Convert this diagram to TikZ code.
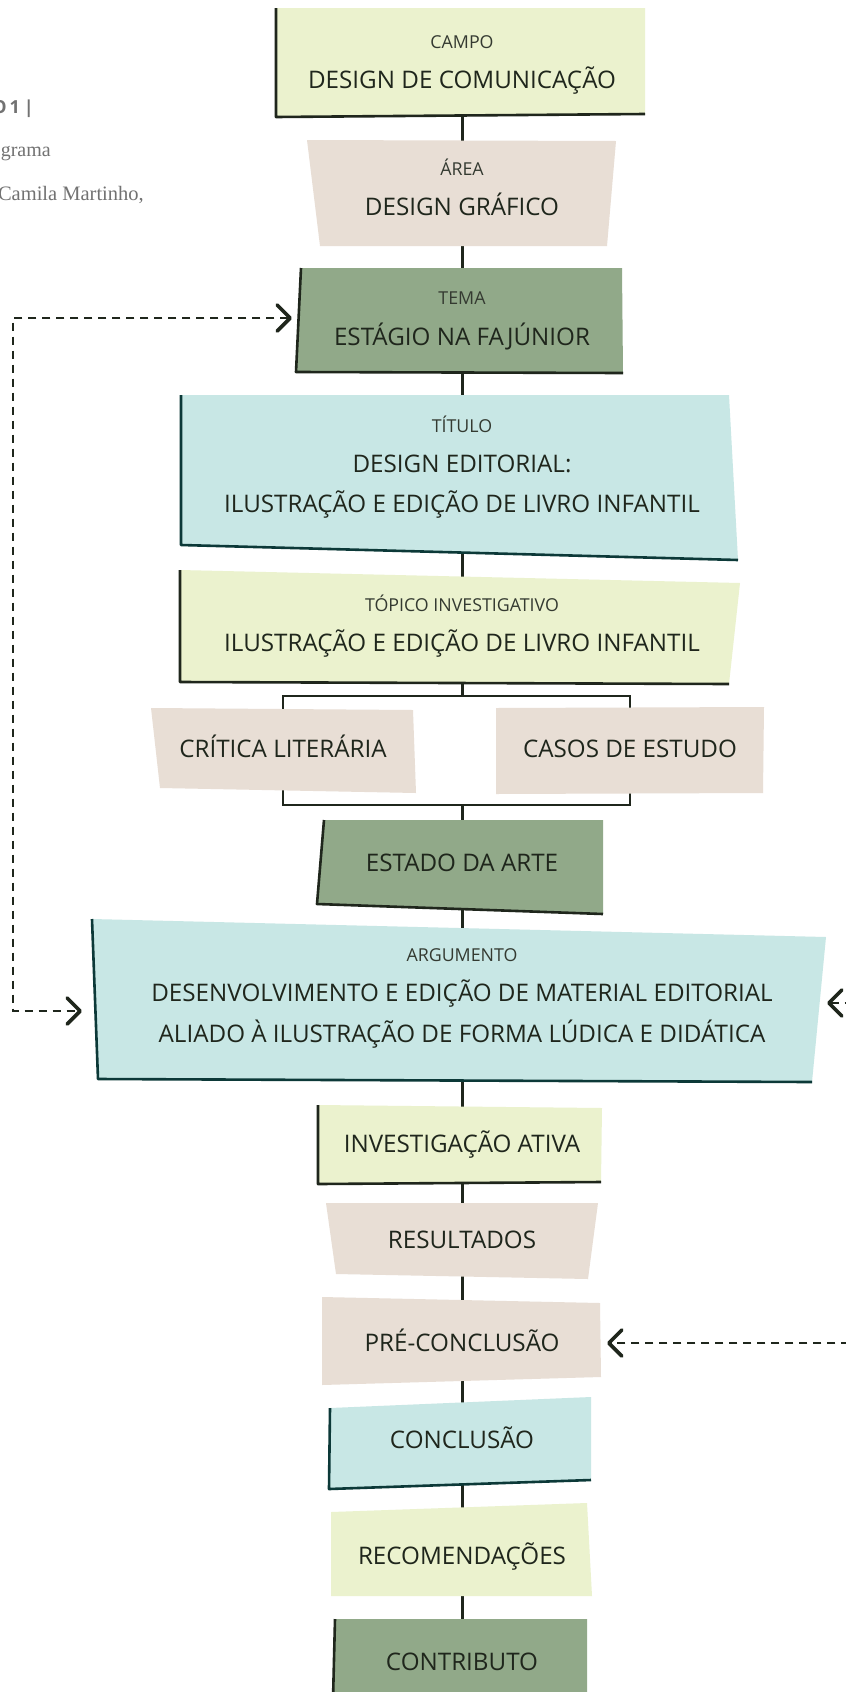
\documentclass[tikz,border=0pt]{standalone}
\usepackage{fontspec}
\setmainfont{Open Sans}
\newfontfamily\grayserif{Liberation Serif}
\usetikzlibrary{arrows.meta}
\definecolor{cYel}{HTML}{EBF2CE}
\definecolor{cBei}{HTML}{E8DED5}
\definecolor{cSag}{HTML}{91A989}
\definecolor{cTea}{HTML}{C8E7E5}
\definecolor{ink}{HTML}{1F261C}
\definecolor{tealink}{HTML}{0C3938}
\definecolor{labink}{HTML}{343A31}
\definecolor{grayt}{HTML}{727272}
\begin{document}
\begin{tikzpicture}[x=1pt,y=-1pt,
  conn/.style={draw=ink, line width=3pt},
  brk/.style={draw=ink, line width=2.4pt},
  edgeline/.style={draw=ink, line width=2.6pt, line join=round},
  tedgeline/.style={edgeline, draw=tealink},
  lbl/.style={anchor=base, font=\fontsize{17.8}{20}\selectfont, text=labink, inner sep=0pt},
  big/.style={anchor=base, font=\fontsize{24.2}{28}\selectfont, text=ink, inner sep=0pt},
  side/.style={anchor=base east, text=grayt, inner sep=0pt},
  fb/.style={draw=ink, line width=2.6pt, dash pattern=on 8pt off 6pt,
    arrows={Straight Barb[round,length=13pt,width=26pt,line width=3.6pt]-Straight Barb[round,length=13pt,width=26pt,line width=3.6pt]}}
]
\useasboundingbox (0,0) rectangle (846,1692);
\clip (0,0) rectangle (846,1692);
\fill[white] (0,0) rectangle (846,1692);

% centre coordinates
\coordinate (k1) at (462,60);
\coordinate (k2) at (462,190);
\coordinate (k3) at (462,320);
\coordinate (k4) at (462,475);
\coordinate (k5) at (462,630);
\coordinate (k6a) at (283,750);
\coordinate (k6b) at (630,750);
\coordinate (bt) at (462,696);
\coordinate (bb) at (462,805);
\coordinate (k7) at (462,863);
\coordinate (k8) at (462,1005);
\coordinate (k9) at (462,1146);
\coordinate (k10) at (462,1244);
\coordinate (k11) at (462,1343);
\coordinate (k12) at (462,1442);
\coordinate (k13) at (462,1556);
\coordinate (k14) at (462,1662);

% connectors
\draw[conn] (k1) -- (k2) -- (k3) -- (k4) -- (k5) -- (bt);
\draw[brk] (bt) -| (k6a);
\draw[brk] (bt) -| (k6b);
\draw[brk] (k6a) |- (bb) -| (k6b);
\draw[conn] (bb) -- (k7) -- (k8) -- (k9) -- (k10) -- (k11) -- (k12) -- (k13) -- (k14);

% CAMPO
\fill[cYel] (276,8) -- (645,8) -- (645,114) -- (276,117) -- cycle;
\draw[edgeline] (276,8) -- (276,117) -- (645,114);
\node[lbl] (campo-l) at (462,48) {CAMPO};
\node[big] (campo) at (462,88) {DESIGN DE COMUNICAÇÃO};

% AREA
\fill[cBei] (307,140) -- (616,141) -- (607,246) -- (320,246) -- cycle;
\node[lbl] (area-l) at (462,175) {ÁREA};
\node[big] (area) at (462,215) {DESIGN GRÁFICO};

% TEMA
\fill[cSag] (301,268) -- (622,268) -- (623,373) -- (296,372) -- cycle;
\draw[edgeline] (301,268) -- (296,372) -- (623,373);
\node[lbl] (tema-l) at (462,304) {TEMA};
\node[big] (tema) at (462,345) {ESTÁGIO NA FAJÚNIOR};

% TITULO
\fill[cTea] (181,395) -- (729,395) -- (738,560) -- (181,545) -- cycle;
\draw[tedgeline] (181,395) -- (181,545) -- (738,560);
\node[lbl] (titulo-l) at (462,432) {TÍTULO};
\node[big] (titulo-1) at (462,472) {DESIGN EDITORIAL:};
\node[big] (titulo-2) at (462,512) {ILUSTRAÇÃO E EDIÇÃO DE LIVRO INFANTIL};

% TOPICO
\fill[cYel] (180,570) -- (740,583) -- (729,684) -- (180,682) -- cycle;
\draw[edgeline] (180,570) -- (180,682) -- (729,684);
\node[lbl] (topico-l) at (462,611) {TÓPICO INVESTIGATIVO};
\node[big] (topico) at (462,651) {ILUSTRAÇÃO E EDIÇÃO DE LIVRO INFANTIL};

% CRITICA / CASOS
\fill[cBei] (151,708) -- (413,710) -- (416,793) -- (160,788) -- cycle;
\node[big] (critica) at (283,757) {CRÍTICA LITERÁRIA};
\fill[cBei] (496,708) -- (764,707) -- (763,793) -- (496,794) -- cycle;
\node[big] (casos) at (630,757) {CASOS DE ESTUDO};

% ESTADO DA ARTE
\fill[cSag] (324,820) -- (603,820) -- (603,914) -- (317,904) -- cycle;
\draw[edgeline] (324,820) -- (317,904) -- (603,914);
\node[big] (estado) at (462,871) {ESTADO DA ARTE};

% ARGUMENTO
\fill[cTea] (92,919) -- (826,937) -- (812,1082) -- (98,1079) -- cycle;
\draw[tedgeline] (92,919) -- (98,1079) -- (812,1082);
\node[lbl] (arg-l) at (462,961) {ARGUMENTO};
\node[big] (arg-1) at (462,1001) {DESENVOLVIMENTO E EDIÇÃO DE MATERIAL EDITORIAL};
\node[big] (arg-2) at (462,1042) {ALIADO À ILUSTRAÇÃO DE FORMA LÚDICA E DIDÁTICA};

% INVESTIGACAO ATIVA
\fill[cYel] (318,1105) -- (602,1108) -- (601,1182) -- (318,1184) -- cycle;
\draw[edgeline] (318,1105) -- (318,1184) -- (601,1182);
\node[big] (invest) at (462,1152) {INVESTIGAÇÃO ATIVA};

% RESULTADOS
\fill[cBei] (326,1203) -- (598,1203) -- (588,1279) -- (336,1274) -- cycle;
\node[big] (result) at (462,1248) {RESULTADOS};

% PRE-CONCLUSAO
\fill[cBei] (322,1297) -- (600,1303) -- (601,1377) -- (322,1385) -- cycle;
\node[big] (pre) at (462,1351) {PRÉ-CONCLUSÃO};

% CONCLUSAO
\fill[cTea] (330,1408) -- (591,1397) -- (591,1480) -- (329,1489) -- cycle;
\draw[tedgeline] (330,1408) -- (329,1489) -- (591,1480);
\node[big] (concl) at (462,1448) {CONCLUSÃO};

% RECOMENDACOES
\fill[cYel] (331,1512) -- (587,1503) -- (592,1596) -- (331,1596) -- cycle;
\node[big] (recom) at (462,1564) {RECOMENDAÇÕES};

% CONTRIBUTO
\fill[cSag] (335,1619) -- (587,1619) -- (587,1700) -- (333,1700) -- cycle;
\draw[edgeline] (335,1619) -- (333,1700);
\node[big] (contrib) at (462,1670) {CONTRIBUTO};

% side texts
\node[side, font=\bfseries\fontsize{18}{20}\selectfont] (quadro) at (34,113) {O\hspace{3pt}1\hspace{4pt}|};
\node[side, font=\grayserif\fontsize{20}{22}\selectfont] (diag) at (51,156) {grama};
\node[side, font=\grayserif\fontsize{20.5}{22}\selectfont] (autor) at (144,200) {Camila Martinho,};

% feedback dashed arrows
\coordinate (temaL) at (292,318);
\coordinate (argL) at (82,1011);
\coordinate (argR) at (827,1003);
\coordinate (preR) at (607,1343);
\draw[fb] (temaL) -- (13,318) -- (13,1011) -- (argL);
\draw[fb] (argR) -- (880,1003) -- (880,1343) -- (preR);
\end{tikzpicture}
\end{document}
